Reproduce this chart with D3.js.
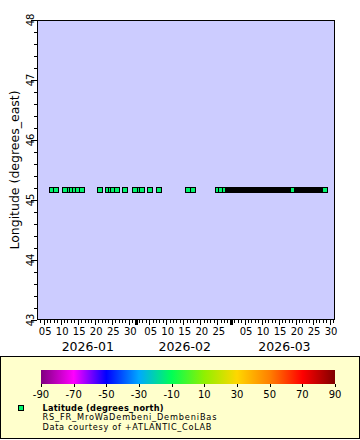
<!DOCTYPE html>
<html><head><meta charset="utf-8">
<script src="https://cdn.jsdelivr.net/npm/d3@7/dist/d3.min.js"></script>
<style>body{margin:0;background:#fff}svg{display:block;font-family:"DejaVu Sans",sans-serif}</style>
</head><body><svg id="c" width="360" height="440"></svg>
<script>
// ---- data ----
const timeDomain = ["2026-01-03T01", "2026-03-31T14"];
const lonDomain = [43, 48];
const lonTicks = [43, 44, 45, 46, 47, 48];
const stationLon = 45.17;       // longitude of the station (constant)
const stationLat = -12.8;       // latitude (colour variable)
const times = [
 "2026-01-07T09","2026-01-08T17","2026-01-11T07","2026-01-12T18","2026-01-13T08","2026-01-14T07",
 "2026-01-15T05","2026-01-16T09","2026-01-21T12","2026-01-24T01","2026-01-24T19","2026-01-25T12",
 "2026-01-26T10","2026-01-28T20","2026-01-31T23","2026-02-02T04","2026-02-02T21","2026-02-05T08",
 "2026-02-08T00","2026-02-16T10","2026-02-17T21","2026-02-25T05","2026-02-26T02","2026-02-27T06",
 "2026-02-28T06","2026-02-28T12","2026-02-28T18",
 "2026-03-01T00","2026-03-01T06","2026-03-01T12","2026-03-01T18",
 "2026-03-02T00","2026-03-02T06","2026-03-02T12","2026-03-02T18",
 "2026-03-03T00","2026-03-03T06","2026-03-03T12","2026-03-03T18",
 "2026-03-04T00","2026-03-04T06","2026-03-04T12","2026-03-04T18",
 "2026-03-05T00","2026-03-05T06","2026-03-05T12","2026-03-05T18",
 "2026-03-06T00","2026-03-06T06","2026-03-06T12","2026-03-06T18",
 "2026-03-07T00","2026-03-07T06","2026-03-07T12","2026-03-07T18",
 "2026-03-08T00","2026-03-08T06","2026-03-08T12","2026-03-08T18",
 "2026-03-09T00","2026-03-09T06","2026-03-09T12","2026-03-09T18",
 "2026-03-10T00","2026-03-10T06","2026-03-10T12","2026-03-10T18",
 "2026-03-11T00","2026-03-11T06","2026-03-11T12","2026-03-11T18",
 "2026-03-12T00","2026-03-12T06","2026-03-12T12","2026-03-12T18",
 "2026-03-13T00","2026-03-13T06","2026-03-13T12","2026-03-13T18",
 "2026-03-14T00","2026-03-14T06","2026-03-14T12","2026-03-14T18",
 "2026-03-15T00","2026-03-15T06","2026-03-15T12","2026-03-15T18",
 "2026-03-16T00","2026-03-16T06","2026-03-16T12","2026-03-16T18",
 "2026-03-17T00","2026-03-17T06","2026-03-17T12","2026-03-17T18",
 "2026-03-18T00","2026-03-18T06","2026-03-18T12","2026-03-18T18",
 "2026-03-19T00","2026-03-19T06",
 "2026-03-20T12","2026-03-20T18",
 "2026-03-21T00","2026-03-21T06","2026-03-21T12","2026-03-21T18",
 "2026-03-22T00","2026-03-22T06","2026-03-22T12","2026-03-22T18",
 "2026-03-23T00","2026-03-23T06","2026-03-23T12","2026-03-23T18",
 "2026-03-24T00","2026-03-24T06","2026-03-24T12","2026-03-24T18",
 "2026-03-25T00","2026-03-25T06","2026-03-25T12","2026-03-25T18",
 "2026-03-26T00","2026-03-26T06","2026-03-26T12","2026-03-26T18",
 "2026-03-27T00","2026-03-27T06","2026-03-27T12","2026-03-27T18",
 "2026-03-28T00","2026-03-28T06","2026-03-28T12"
];
const monthLabels = ["2026-01", "2026-02", "2026-03"];
const colorStops = [-90, -70, -50, -30, -10, 10, 30, 50, 70, 90];
const colorValues = ["#800080","#ff00ff","#0000ff","#00a8ff","#00ff55","#90f000","#ffd700","#ff8000","#ff0000","#800000"];
const colorTicks = [-90, -70, -50, -30, -10, 10, 30, 50, 70, 90];
const legendTitle = "Latitude (degrees_north)";
const legendLines = ["RS_FR_MroWaDembeni_DembeniBas", "Data courtesy of +ATLANTIC_CoLAB"];
const yTitle = "Longitude (degrees_east)";

// ---- drawing ----
const parse = d3.utcParse("%Y-%m-%dT%H");
const svg = d3.select("#c");
const L = 37, R = 335, T = 20, B = 320;
const x = d3.scaleUtc().domain(timeDomain.map(parse)).range([L, R]);
const y = d3.scaleLinear().domain(lonDomain).range([B, T]);
const color = d3.scaleLinear().domain(colorStops).range(colorValues);

svg.append("rect").attr("x", L).attr("y", T).attr("width", R - L).attr("height", B - T)
  .attr("fill", "#ccccff");

// y axis ticks
const yMinor = d3.range(lonDomain[0], lonDomain[1] + 0.001, 0.2);
svg.append("g").selectAll("line").data(yMinor).join("line")
  .attr("x1", L - 3).attr("x2", L).attr("y1", d => Math.round(y(d)) + 0.5).attr("y2", d => Math.round(y(d)) + 0.5)
  .attr("stroke", "#000");
svg.append("g").selectAll("line").data(lonTicks).join("line")
  .attr("x1", L - 6).attr("x2", L).attr("y1", d => Math.round(y(d)) + 0.5).attr("y2", d => Math.round(y(d)) + 0.5)
  .attr("stroke", "#000");
svg.append("g").selectAll("text").data(lonTicks).join("text")
  .attr("transform", d => `translate(34,${y(d)}) rotate(-90)`)
  .attr("text-anchor", "middle").attr("font-size", 10).text(d => d);
svg.append("text").attr("transform", `translate(19,${(T + B) / 2}) rotate(-90)`)
  .attr("text-anchor", "middle").attr("font-size", 12.5).text(yTitle);

// x axis ticks
const [d0, d1] = x.domain();
const days = d3.utcDay.range(d3.utcDay.ceil(d0), d1);
svg.append("g").selectAll("line").data(days).join("line")
  .attr("x1", d => Math.round(x(d)) + 0.5).attr("x2", d => Math.round(x(d)) + 0.5)
  .attr("y1", B).attr("y2", d => B + (d.getUTCDate() % 5 === 0 ? 5 : 3))
  .attr("stroke", "#000");
const months = d3.utcMonth.range(d3.utcMonth.ceil(d0), d1);
svg.append("g").selectAll("rect").data(months).join("rect")
  .attr("x", d => Math.round(x(d)) - 1).attr("y", B).attr("width", 3).attr("height", 5).attr("fill", "#000");
const labDays = days.filter(d => d.getUTCDate() % 5 === 0);
svg.append("g").selectAll("text").data(labDays).join("text")
  .attr("x", d => x(d) + 1.5).attr("y", B + 15).attr("text-anchor", "middle").attr("font-size", 10)
  .text(d => d3.utcFormat("%d")(d));
const monthStarts = [d0, ...months, d1];
svg.append("g").selectAll("text").data(monthLabels).join("text")
  .attr("x", (d, i) => (x(monthStarts[i]) + x(monthStarts[i + 1])) / 2 + 1.5)
  .attr("y", B + 31).attr("text-anchor", "middle").attr("font-size", 12.5).text(d => d);

// markers (pixel-snapped, drawn in time order)
const yc = Math.round(y(stationLon));
svg.append("g").attr("shape-rendering", "crispEdges").selectAll("rect").data(times.map(parse)).join("rect")
  .attr("x", d => Math.round(x(d)) - 2.5).attr("y", yc - 2.5).attr("width", 5).attr("height", 5)
  .attr("fill", color(stationLat)).attr("stroke", "#000").attr("stroke-width", 1);

// frame
svg.append("rect").attr("x", L + 0.5).attr("y", T + 0.5).attr("width", R - L - 1).attr("height", B - T - 1)
  .attr("fill", "none").attr("stroke", "#000");

// legend
svg.append("rect").attr("x", 0.5).attr("y", 356.5).attr("width", 359).attr("height", 82)
  .attr("fill", "#ffffcc").attr("stroke", "#000");
const grad = svg.append("defs").append("linearGradient").attr("id", "g");
grad.selectAll("stop").data(colorStops).join("stop")
  .attr("offset", d => (d + 90) / 180).attr("stop-color", d => color(d));
const cx = d3.scaleLinear().domain([-90, 90]).range([41, 335]);
svg.append("rect").attr("x", cx(-90)).attr("y", 370).attr("width", cx(90) - cx(-90)).attr("height", 14)
  .attr("fill", "url(#g)");
svg.append("g").selectAll("line").data(colorTicks).join("line")
  .attr("x1", d => Math.round(cx(d)) + 0.5).attr("x2", d => Math.round(cx(d)) + 0.5)
  .attr("y1", 384).attr("y2", 387).attr("stroke", "#000");
svg.append("g").selectAll("text").data(colorTicks).join("text")
  .attr("x", d => cx(d)).attr("y", 398).attr("text-anchor", "middle").attr("font-size", 10).text(d => d);
svg.append("rect").attr("x", 18.5).attr("y", 405.5).attr("width", 5).attr("height", 5)
  .attr("shape-rendering", "crispEdges")
  .attr("fill", color(stationLat)).attr("stroke", "#000");
svg.append("text").attr("x", 42.5).attr("y", 410.5).attr("font-size", 8.2).attr("font-weight", "bold")
  .attr("textLength", 121).attr("lengthAdjust", "spacing").text(legendTitle);
const lineWidths = [174, 169];
svg.append("g").selectAll("text").data(legendLines).join("text")
  .attr("x", 42.5).attr("y", (d, i) => 420.1 + i * 9.6).attr("font-size", 8.2)
  .attr("textLength", (d, i) => lineWidths[i]).attr("lengthAdjust", "spacing").text(d => d);
</script></body></html>
